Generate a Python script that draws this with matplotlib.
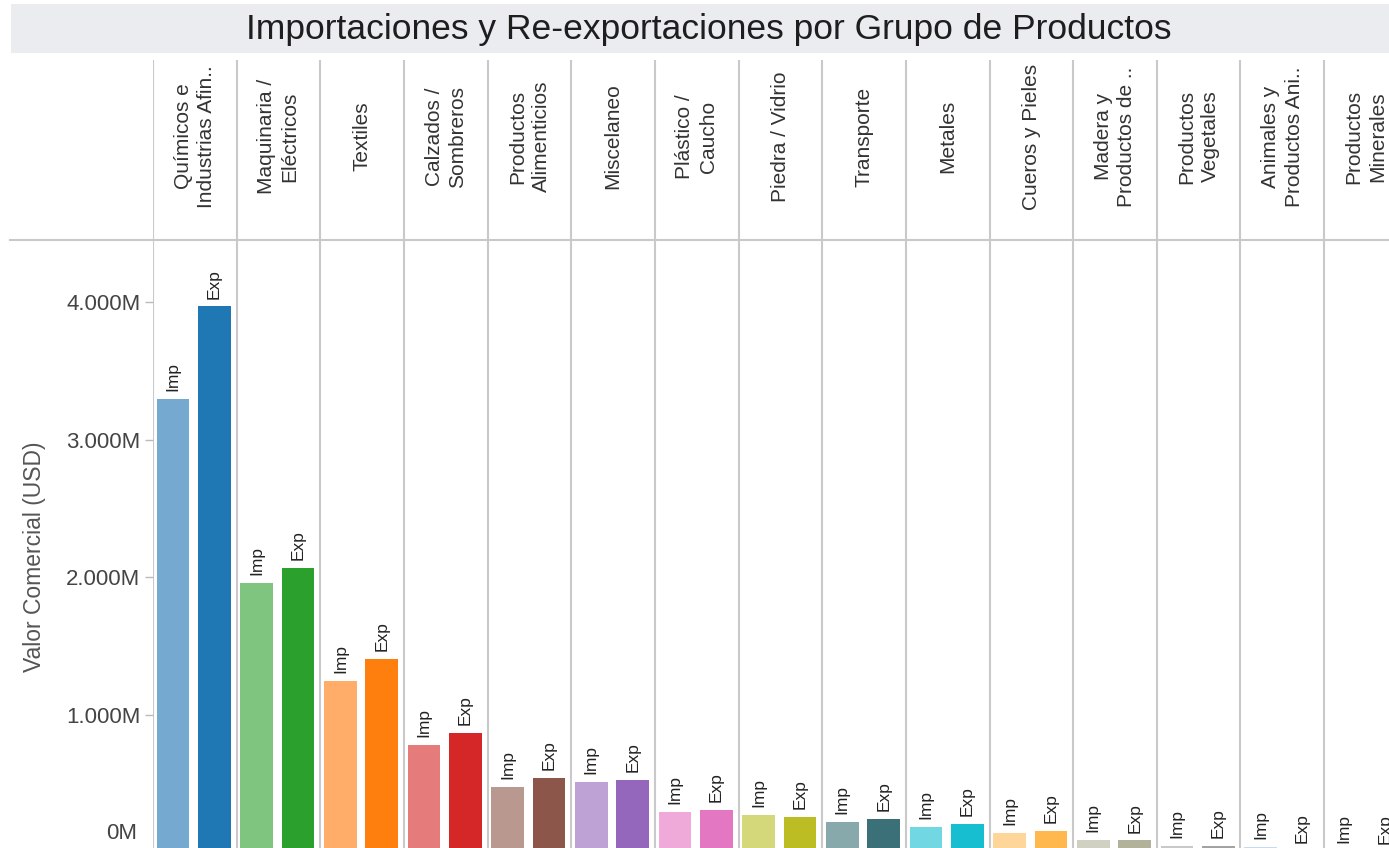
import matplotlib.pyplot as plt
from matplotlib.lines import Line2D
from matplotlib.patches import Rectangle
from matplotlib.ticker import FuncFormatter

plt.rcParams['font.family'] = ['Liberation Sans', 'DejaVu Sans']

# grupos de productos (valores en millones de USD)
grupos = ["Químicos e\nIndustrias Afin..", "Maquinaria /\nEléctricos", "Textiles",
          "Calzados /\nSombreros", "Productos\nAlimenticios", "Miscelaneo",
          "Plástico /\nCaucho", "Piedra / Vidrio", "Transporte", "Metales",
          "Cueros y Pieles", "Madera y\nProductos de ..", "Productos\nVegetales",
          "Animales y\nProductos Ani..", "Productos\nMinerales"]
imp = [3298, 1959, 1247, 782, 477, 513, 296, 274, 223, 187, 143, 95, 49, 41, 12]
exp = [3967, 2070, 1407, 869, 543, 528, 310, 259, 245, 208, 158, 90, 49, 12, 10]
col_imp = ["#75a9cf", "#7fc47f", "#ffad69", "#e67b7b", "#b9988f", "#bea2d6",
           "#f0aad9", "#d5d87a", "#87a9ab", "#71d7e2", "#ffd699", "#d1d1c3",
           "#c8c8c8", "#c5dcf0", "#f5c6c6"]
col_exp = ["#1f77b4", "#2ca02c", "#ff7f0e", "#d62728", "#8c564b", "#9467bd",
           "#e377c2", "#bcbd22", "#3b7078", "#17becf", "#ffb84d", "#b2b29a",
           "#a3a3a3", "#9ecae1", "#e88f8f"]
yticks = [1000, 2000, 3000, 4000]

W, H = 1389, 848
fig = plt.figure(figsize=(W / 100, H / 100), dpi=100)


def fx(px):
    return px / W


def fy(py):
    return 1 - py / H


left, panel_w = 153, 83.65
xmax = (W - left) / panel_w
line_col = "#c9c9c9"

# banda del titulo
fig.add_artist(Rectangle((fx(11), fy(53)), 1 - fx(11), fy(4) - fy(53),
                         transform=fig.transFigure, color="#ebecf0", lw=0))
fig.text(fx(709), fy(30), "Importaciones y Re-exportaciones por Grupo de Productos",
         ha="center", va="center", fontsize=25.5, color="#1e1e1e")

# encabezados de columna
hax = fig.add_axes([fx(left), fy(240), 1 - fx(left), fy(60) - fy(240)])
hax.set_xlim(0, xmax)
hax.set_ylim(0, 1)
hax.axis("off")
for i, g in enumerate(grupos):
    hax.text(i + 0.5, 0.575, g, rotation=90, ha="center", va="center",
             multialignment="center", fontsize=15, color="#333333",
             linespacing=1.3, clip_on=True)
for i in range(len(grupos)):
    hax.axvline(i, color=line_col, lw=1.5)

fig.add_artist(Line2D([fx(10), 1], [fy(240), fy(240)], color=line_col, lw=1.5))

# barras
ax = fig.add_axes([fx(left), 0, 1 - fx(left), fy(240)])
ax.set_xlim(0, xmax)
ax.set_ylim(34, 4449)
for s in ax.spines.values():
    s.set_visible(False)
for i in range(len(grupos)):
    ax.axvline(i, color=line_col, lw=1.5, zorder=1)

x_imp = [i + 0.24 for i in range(len(grupos))]
x_exp = [i + 0.735 for i in range(len(grupos))]
ax.bar(x_imp, imp, width=0.39, color=col_imp, zorder=2)
ax.bar(x_exp, exp, width=0.39, color=col_exp, zorder=2)

for xs, vals, lab in [(x_imp, imp, "Imp"), (x_exp, exp, "Exp")]:
    for x, v in zip(xs, vals):
        ax.annotate(lab, xy=(x, v), xytext=(0, 5.5), textcoords="offset points",
                    rotation=90, ha="center", va="bottom", fontsize=12.5,
                    color="#222222", annotation_clip=False)

ax.set_xticks([])
ax.set_yticks(yticks)
ax.yaxis.set_major_formatter(FuncFormatter(lambda v, p: f"{v:,.0f}M".replace(",", ".")))
ax.tick_params(axis="y", length=6, width=1, color="#bbbbbb", labelsize=16,
               labelcolor="#444444", pad=3)
ax.annotate("0M", xy=(0, 34), xycoords=("axes fraction", "data"), xytext=(-11.5, 3),
            textcoords="offset points", ha="right", va="bottom", fontsize=16,
            color="#444444", annotation_clip=False)

fig.text(fx(35), fy(557), "Valor Comercial (USD)", rotation=90, ha="center",
         va="center", fontsize=16.5, color="#555555")

fig.savefig("out.png", dpi=100)
